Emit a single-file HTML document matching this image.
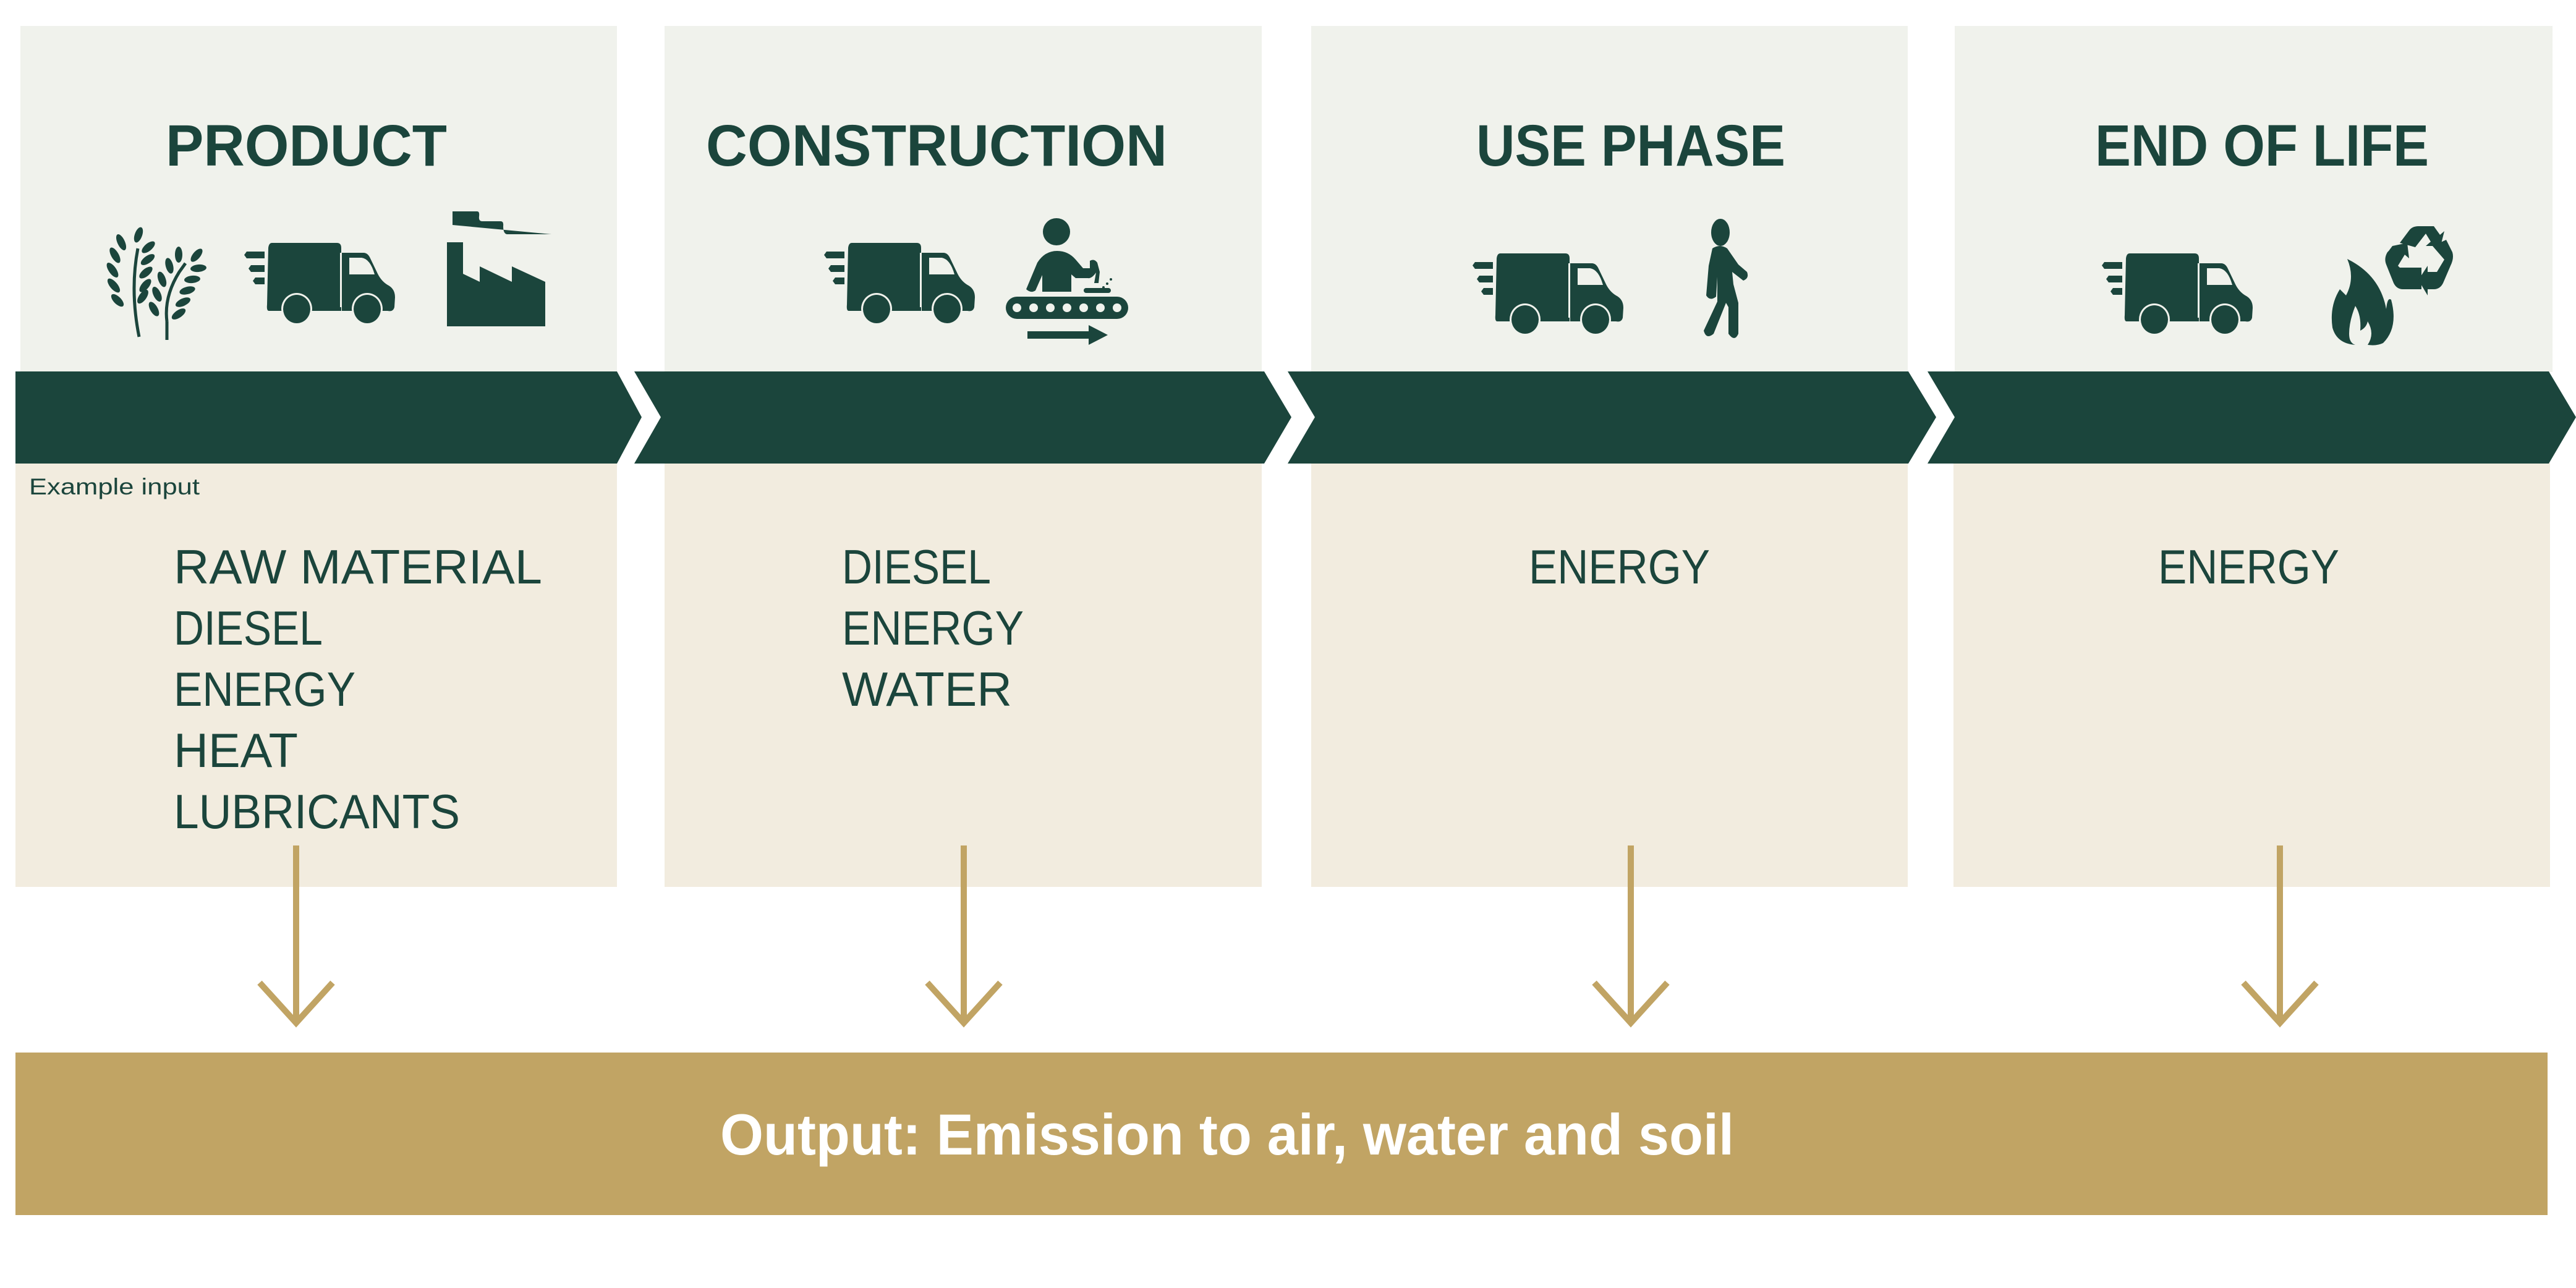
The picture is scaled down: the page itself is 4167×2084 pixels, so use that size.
<!DOCTYPE html>
<html><head><meta charset="utf-8"><style>
html,body{margin:0;padding:0;background:#fff;}
svg{display:block;}
text{font-family:"Liberation Sans",sans-serif;}
</style></head><body>
<svg width="4167" height="2084" viewBox="0 0 4167 2084" xmlns="http://www.w3.org/2000/svg">
<defs>
<g id="truck">
  <path d="M4,14 H33 V25 H4 L0,19.5 Z" fill="#1b453c"/>
  <path d="M11,36 H33 V47 H11 L7,41.5 Z" fill="#1b453c"/>
  <path d="M18,56 H33 V67 H18 L14,61.5 Z" fill="#1b453c"/>
  <path d="M45,0 H150 Q157,0 157,8 V110 H40 Q36,110 37,100 L39,8 Q40,0 45,0 Z" fill="#1b453c"/>
  <path d="M160,16 H193 Q200,16 204,25 L216,50 Q222,62 232,68 Q244,74 244,88 L243,104 Q241,112 232,110 L158,110 L158,16 Z" fill="#1b453c"/>
  <path d="M170,24 H190 Q204,26 211,51 H170 Z" fill="#f0f2ec"/>
  <rect x="155" y="16" width="3" height="88" fill="#f0f2ec"/>
  <ellipse cx="85" cy="107" rx="25" ry="26" fill="#f0f2ec"/>
  <ellipse cx="199" cy="107" rx="25" ry="26" fill="#f0f2ec"/>
  <ellipse cx="85" cy="107" rx="22" ry="23" fill="#1b453c"/>
  <ellipse cx="199" cy="107" rx="22" ry="23" fill="#1b453c"/>
</g>
</defs>
<rect width="4167" height="2084" fill="#fff"/>
<rect x="33" y="42" width="965" height="560" fill="#f0f2ec"/>
<rect x="1075" y="42" width="966" height="560" fill="#f0f2ec"/>
<rect x="2121" y="42" width="965" height="560" fill="#f0f2ec"/>
<rect x="3162" y="42" width="967" height="560" fill="#f0f2ec"/>
<rect x="25" y="749" width="973" height="686" fill="#f2ecdf"/>
<rect x="1075" y="749" width="966" height="686" fill="#f2ecdf"/>
<rect x="2121" y="749" width="965" height="686" fill="#f2ecdf"/>
<rect x="3160" y="749" width="965" height="686" fill="#f2ecdf"/>
<polygon points="25,601 998,601 1038,675 998,750 25,750" fill="#1b453c"/>
<polygon points="1026,601 2045,601 2089,675 2045,750 1026,750 1069,675" fill="#1b453c"/>
<polygon points="2083,601 3087,601 3132,675 3087,750 2083,750 2127,675" fill="#1b453c"/>
<polygon points="3118,601 4123,601 4167,675 4123,750 3118,750 3162,675" fill="#1b453c"/>
<g fill="#1b453c" font-weight="bold" font-size="95">
<text x="268" y="268" textLength="455" lengthAdjust="spacingAndGlyphs">PRODUCT</text>
<text x="1142" y="268" textLength="746" lengthAdjust="spacingAndGlyphs">CONSTRUCTION</text>
<text x="2388" y="268" textLength="500" lengthAdjust="spacingAndGlyphs">USE PHASE</text>
<text x="3389" y="268" textLength="540" lengthAdjust="spacingAndGlyphs">END OF LIFE</text>
</g>
<g fill="#1b453c">
  <path d="M223,402 Q210,470 225,545" stroke="#1b453c" stroke-width="5" fill="none"/>
  <ellipse cx="224" cy="380" rx="6" ry="13" transform="rotate(20 224 380)"/>
  <ellipse cx="196" cy="392" rx="6" ry="14" transform="rotate(-25 196 392)"/>
  <ellipse cx="240" cy="400" rx="6" ry="13" transform="rotate(50 240 400)"/>
  <ellipse cx="186" cy="413" rx="6" ry="14" transform="rotate(-30 186 413)"/>
  <ellipse cx="239" cy="420" rx="6" ry="13" transform="rotate(55 239 420)"/>
  <ellipse cx="182" cy="437" rx="6" ry="14" transform="rotate(-35 182 437)"/>
  <ellipse cx="236" cy="441" rx="6" ry="13" transform="rotate(50 236 441)"/>
  <ellipse cx="184" cy="462" rx="6" ry="14" transform="rotate(-40 184 462)"/>
  <ellipse cx="235" cy="462" rx="6" ry="13" transform="rotate(40 235 462)"/>
  <ellipse cx="190" cy="486" rx="6" ry="13" transform="rotate(-45 190 486)"/>
  <ellipse cx="231" cy="480" rx="6" ry="13" transform="rotate(35 231 480)"/>
  <ellipse cx="289" cy="412" rx="6" ry="13"/>
  <ellipse cx="318" cy="413" rx="6" ry="13" transform="rotate(40 318 413)"/>
  <ellipse cx="274" cy="430" rx="6" ry="13" transform="rotate(-15 274 430)"/>
  <ellipse cx="321" cy="434" rx="6" ry="13" transform="rotate(85 321 434)"/>
  <ellipse cx="262" cy="452" rx="6" ry="13" transform="rotate(-20 262 452)"/>
  <ellipse cx="311" cy="452" rx="6" ry="13" transform="rotate(85 311 452)"/>
  <ellipse cx="254" cy="476" rx="6" ry="13" transform="rotate(-25 254 476)"/>
  <ellipse cx="303" cy="470" rx="6" ry="13" transform="rotate(75 303 470)"/>
  <ellipse cx="249" cy="500" rx="6" ry="13" transform="rotate(-30 249 500)"/>
  <ellipse cx="296" cy="489" rx="6" ry="13" transform="rotate(65 296 489)"/>
  <ellipse cx="289" cy="508" rx="6" ry="13" transform="rotate(55 289 508)"/>
  <path d="M270,520 Q265,480 290,440 L300,426" stroke="#1b453c" stroke-width="5" fill="none"/>
  <path d="M270,520 L270,550" stroke="#1b453c" stroke-width="5"/>
</g>
<use href="#truck" x="395" y="393"/>
<g fill="#1b453c">
  <polygon points="723,392 749,392 749,443 776,456 776,431 828,456 828,431 882,456 882,528 723,528"/>
  <path d="M732,342 H772 Q776,342 775,350 Q774,358 780,358 H810 Q815,358 814,366 Q814,378 820,379 H892 L732,364 Z"/>
</g>
<use href="#truck" x="1333" y="393"/>
<g fill="#1b453c">
  <circle cx="1709" cy="375" r="22"/>
  <path d="M1686,472 V445 L1675,470 Q1668,475 1660,468 L1678,425 Q1690,406 1710,406 Q1728,406 1740,420 L1752,434 H1763 V422 Q1770,418 1775,425 L1779,440 L1777,458 H1770 L1773,441 Q1766,451 1760,450 H1740 L1733,444 V472 Z"/>
  <rect x="1753" y="466" width="44" height="8" rx="4"/>
  <circle cx="1791" cy="459" r="2"/><circle cx="1797" cy="452" r="2"/><circle cx="1785" cy="465" r="2"/>
  <rect x="1627" y="480" width="198" height="36" rx="18"/>
  <g fill="#f0f2ec"><circle cx="1645" cy="498" r="7"/><circle cx="1672" cy="498" r="7"/><circle cx="1699" cy="498" r="7"/><circle cx="1726" cy="498" r="7"/><circle cx="1753" cy="498" r="7"/><circle cx="1780" cy="498" r="7"/><circle cx="1807" cy="498" r="7"/></g>
  <rect x="1662" y="536" width="104" height="12"/>
  <polygon points="1761,526 1792,542 1761,558"/>
</g>
<use href="#truck" x="2382" y="410"/>
<g fill="#1b453c">
  <ellipse cx="2783" cy="376" rx="15" ry="22"/>
  <path d="M2770,402 Q2782,394 2794,402 L2812,428 L2826,440 Q2830,450 2820,454 L2802,440 L2804,460 L2812,490 V540 Q2806,554 2796,540 V497 L2792,490 L2772,540 Q2760,550 2756,535 L2778,488 L2778,448 L2776,480 Q2766,488 2760,478 L2764,430 Z"/>
</g>
<use href="#truck" x="3400" y="410"/>
<g fill="#1b453c">
  <path d="M3797,419 Q3850,445 3860,500 Q3862,480 3868,485 Q3880,530 3855,555 Q3845,560 3830,558 Q3842,540 3830,520 Q3828,530 3818,535 Q3820,510 3810,495 Q3800,520 3800,540 Q3800,555 3810,558 Q3780,556 3773,530 Q3768,495 3785,468 L3795,478 Q3810,450 3797,419 Z"/>
  <g transform="translate(3912,418)">
    <path d="M-30,-25 L-15,-45 Q-10,-52 0,-52 H25 L35,-38 L42,-44 L36,-20 L12,-20 L20,-27 L12,-40 L-5,-18 Z"/>
    <path d="M-42,-20 L-18,-25 L-15,0 L-22,-6 L-33,12 L-30,15 H5 V50 H-25 Q-35,50 -40,40 L-52,10 Q-56,0 -50,-10 L-48,-12 Z"/>
    <path d="M23,-20 L45,-30 L55,-10 Q58,0 52,12 L40,40 Q35,50 25,50 H15 V60 L0,35 L15,12 V22 H30 L42,2 Z"/>
  </g>
</g>
<text x="47" y="800" font-size="37" fill="#1b453c" textLength="276" lengthAdjust="spacingAndGlyphs">Example input</text>
<g fill="#1b453c" font-size="78">
<text x="281" y="944" textLength="596" lengthAdjust="spacingAndGlyphs">RAW MATERIAL</text>
<text x="281" y="1043" textLength="241" lengthAdjust="spacingAndGlyphs">DIESEL</text>
<text x="281" y="1142" textLength="294" lengthAdjust="spacingAndGlyphs">ENERGY</text>
<text x="281" y="1241" textLength="201" lengthAdjust="spacingAndGlyphs">HEAT</text>
<text x="281" y="1340" textLength="463" lengthAdjust="spacingAndGlyphs">LUBRICANTS</text>
<text x="1362" y="944" textLength="241" lengthAdjust="spacingAndGlyphs">DIESEL</text>
<text x="1362" y="1043" textLength="294" lengthAdjust="spacingAndGlyphs">ENERGY</text>
<text x="1362" y="1142" textLength="275" lengthAdjust="spacingAndGlyphs">WATER</text>
<text x="2473" y="944" textLength="293" lengthAdjust="spacingAndGlyphs">ENERGY</text>
<text x="3491" y="944" textLength="293" lengthAdjust="spacingAndGlyphs">ENERGY</text>
</g>
<g stroke="#c1a464" stroke-width="10" fill="none">
<path d="M479,1368 V1655 M420,1590 L479,1655 L538,1590"/>
<path d="M1559,1368 V1655 M1500,1590 L1559,1655 L1618,1590"/>
<path d="M2638,1368 V1655 M2579,1590 L2638,1655 L2697,1590"/>
<path d="M3688,1368 V1655 M3629,1590 L3688,1655 L3747,1590"/>
</g>
<rect x="25" y="1703" width="4096" height="263" fill="#c1a464"/>
<text x="1165" y="1868" font-size="94" font-weight="bold" fill="#fff" textLength="1640" lengthAdjust="spacingAndGlyphs">Output: Emission to air, water and soil</text>
</svg>
</body></html>
